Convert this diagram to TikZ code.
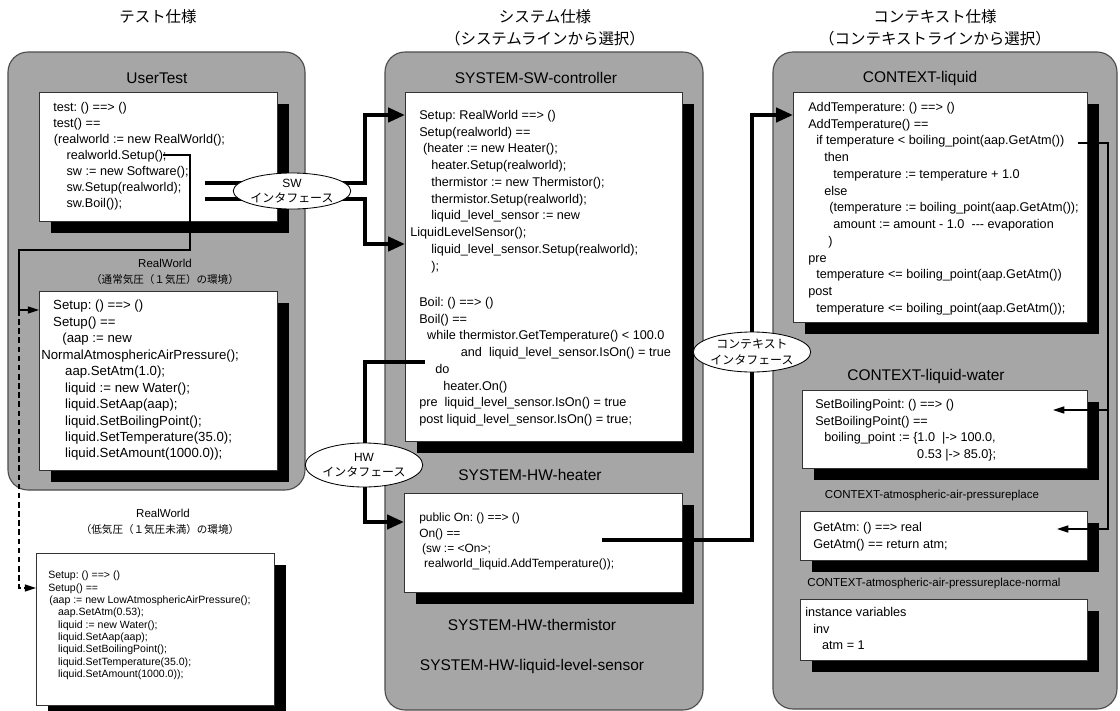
\documentclass[tikz,border=0pt]{standalone}
\usepackage{fontspec}
\setmainfont{Liberation Sans}
\newfontfamily\jpfont{Noto Sans CJK JP}
\usetikzlibrary{arrows.meta,shadows,shapes.geometric}
\frenchspacing
\newcommand{\unitpx}{0.025cm}
\tikzset{
  panel/.style={draw=black!70,line width=0.8pt,fill=black!35,rounded corners=0.5cm},
  codebox/.style={draw=black!80,line width=0.6pt,fill=white,inner sep=0pt,outer sep=0pt,anchor=north west,
    drop shadow={shadow xshift=0.31cm,shadow yshift=-0.31cm,opacity=1,fill=black}},
  code/.style={anchor=north west,inner sep=0pt,align=left,font=\fontsize{9}{11.9}\selectfont},
  heading/.style={inner sep=0pt,font=\fontsize{11}{13}\selectfont},
  subheading/.style={inner sep=0pt,font=\fontsize{8.2}{10}\selectfont},
  title/.style={inner sep=0pt,align=center,font=\jpfont\fontsize{11}{15.6}\selectfont},
  envnote/.style={inner sep=0pt,font=\jpfont\fontsize{7.5}{9}\selectfont},
  iface/.style={ellipse,draw,line width=0.6pt,fill=white,inner sep=0pt,align=center,font=\fontsize{8.5}{11}\selectfont},
  bus/.style={line width=2.8pt,-{Triangle[length=12pt,width=10pt]}},
  link/.style={line width=0.8pt,-{Triangle[length=8pt,width=5pt]}}
}
\begin{document}
\begin{tikzpicture}[x=0.025cm,y=-0.025cm]
\useasboundingbox (0,0) rectangle (1120,711);
% titles
\node[title] (tTest) at (158,17) {テスト仕様};
\node[title] (tSys) at (545,28) {システム仕様\\（システムラインから選択）};
\node[title] (tCtx) at (935,28) {コンテキスト仕様\\（コンテキストラインから選択）};

% panels
\draw[panel] (8,52) rectangle (305,490);
\draw[panel] (385,52) rectangle (703,710);
\draw[panel] (773,52) rectangle (1117,709);

% test spec
\node[heading] (utTitle) at (157,78) {UserTest};
\node[codebox,minimum width=238*\unitpx,minimum height=129*\unitpx] (ut) at (39,92) {};
\node[code,font=\fontsize{9}{11.4}\selectfont] (utCode) at (53,102) {test: () ==> ()\\
test() ==\\
\hspace*{0.5pt}(realworld := new RealWorld();\\
\hspace*{9.5pt}realworld.Setup();\\
\hspace*{9.5pt}sw := new Software();\\
\hspace*{9.5pt}sw.Setup(realworld);\\
\hspace*{9.5pt}sw.Boil());};

\node[subheading] (rwNTitle) at (165,263) {RealWorld};
\node[envnote] (rwNEnv) at (165,279) {（通常気圧（１気圧）の環境）};
\node[codebox,minimum width=238*\unitpx,minimum height=179*\unitpx] (rwN) at (39,291) {};
\node[code,font=\fontsize{9.4}{11.7}\selectfont] (rwNCode) at (41,300) {\hspace*{8.5pt}Setup: () ==> ()\\
\hspace*{8.5pt}Setup() ==\\
\hspace*{15pt}(aap := new\\
NormalAtmosphericAirPressure();\\
\hspace*{17pt}aap.SetAtm(1.0);\\
\hspace*{17pt}liquid := new Water();\\
\hspace*{17pt}liquid.SetAap(aap);\\
\hspace*{17pt}liquid.SetBoilingPoint();\\
\hspace*{17pt}liquid.SetTemperature(35.0);\\
\hspace*{17pt}liquid.SetAmount(1000.0));};

\node[subheading] (rwLTitle) at (163,513) {RealWorld};
\node[envnote] (rwLEnv) at (160,529) {（低気圧（１気圧未満）の環境）};
\node[codebox,minimum width=238*\unitpx,minimum height=152*\unitpx] (rwL) at (36,553) {};
\node[code,font=\fontsize{7.5}{8.75}\selectfont] (rwLCode) at (48,571) {Setup: () ==> ()\\
Setup() ==\\
\hspace*{0.7pt}(aap := new LowAtmosphericAirPressure();\\
\hspace*{7pt}aap.SetAtm(0.53);\\
\hspace*{7pt}liquid := new Water();\\
\hspace*{7pt}liquid.SetAap(aap);\\
\hspace*{7pt}liquid.SetBoilingPoint();\\
\hspace*{7pt}liquid.SetTemperature(35.0);\\
\hspace*{7pt}liquid.SetAmount(1000.0));};

% system spec
\node[heading] (swcTitle) at (536,78) {SYSTEM-SW-controller};
\node[codebox,minimum width=277*\unitpx,minimum height=349*\unitpx] (swc) at (405,92) {};
\node[code] (swcCode) at (410,110) {\hspace*{6.4pt}Setup: RealWorld ==> ()\\
\hspace*{6.4pt}Setup(realworld) ==\\
\hspace*{9.2pt}(heater := new Heater();\\
\hspace*{15pt}heater.Setup(realworld);\\
\hspace*{15pt}thermistor := new Thermistor();\\
\hspace*{15pt}thermistor.Setup(realworld);\\
\hspace*{15pt}liquid\_level\_sensor := new\\
LiquidLevelSensor();\\
\hspace*{15pt}liquid\_level\_sensor.Setup(realworld);\\
\hspace*{15pt});\\[14pt]
\hspace*{6.4pt}Boil: () ==> ()\\
\hspace*{6.4pt}Boil() ==\\
\hspace*{12pt}while thermistor.GetTemperature() < 100.0\\
\hspace*{36pt}and~~liquid\_level\_sensor.IsOn() = true\\
\hspace*{17.8pt}do\\
\hspace*{23.5pt}heater.On()\\
\hspace*{6.4pt}pre~~liquid\_level\_sensor.IsOn() = true\\
\hspace*{6.4pt}post liquid\_level\_sensor.IsOn() = true;};

\node[heading] (htrTitle) at (530,475) {SYSTEM-HW-heater};
\node[codebox,minimum width=278*\unitpx,minimum height=99*\unitpx] (htr) at (404,493) {};
\node[code,font=\fontsize{8.5}{10.9}\selectfont] (htrCode) at (419,513) {public On: () ==> ()\\
On() ==\\
\hspace*{2pt}(sw := <On>;\\
\hspace*{3.5pt}realworld\_liquid.AddTemperature());};
\node[heading] (thmTitle) at (532,625) {SYSTEM-HW-thermistor};
\node[heading] (llsTitle) at (532,666) {SYSTEM-HW-liquid-level-sensor};

% context spec
\node[heading] (liqTitle) at (920,78) {CONTEXT-liquid};
\node[codebox,minimum width=294*\unitpx,minimum height=230*\unitpx] (liq) at (793,92) {};
\node[code] (liqCode) at (808,102) {AddTemperature: () ==> ()\\
AddTemperature() ==\\
\hspace*{5.7pt}if temperature < boiling\_point(aap.GetAtm())\\
\hspace*{11.4pt}then\\
\hspace*{17.8pt}temperature := temperature + 1.0\\
\hspace*{11.4pt}else\\
\hspace*{15pt}(temperature := boiling\_point(aap.GetAtm());\\
\hspace*{17.8pt}amount := amount - 1.0~~-{}-{}- evaporation\\
\hspace*{14.2pt})\\
pre\\
\hspace*{5.7pt}temperature <= boiling\_point(aap.GetAtm())\\
post\\
\hspace*{5.7pt}temperature <= boiling\_point(aap.GetAtm());};

\node[heading] (watTitle) at (926,376) {CONTEXT-liquid-water};
\node[codebox,minimum width=285*\unitpx,minimum height=78*\unitpx] (wat) at (802,390) {};
\node[code] (watCode) at (815,399) {SetBoilingPoint: () ==> ()\\
SetBoilingPoint() ==\\
\hspace*{6.4pt}boiling\_point := \{1.0~~|-> 100.0,\\
\hspace*{72.5pt}0.53 |-> 85.0\};};

\node[subheading] (atmTitle) at (932,496) {CONTEXT-atmospheric-air-pressureplace};
\node[codebox,minimum width=287*\unitpx,minimum height=49*\unitpx] (atm) at (800,511) {};
\node[code] (atmCode) at (813,522) {GetAtm: () ==> real\\
GetAtm() == return atm;};

\node[subheading] (nrmTitle) at (934,584) {CONTEXT-atmospheric-air-pressureplace-normal};
\node[codebox,minimum width=287*\unitpx,minimum height=61*\unitpx] (nrm) at (800,599) {};
\node[code] (nrmCode) at (805,607) {instance variables\\
\hspace*{5.7pt}inv\\
\hspace*{12pt}atm = 1};

% connectors
\coordinate (setupcall) at (163,155);
\coordinate (split) at (19,310);
\coordinate (swout1) at (205,183);
\coordinate (swout2) at (205,199);
\coordinate (hwout) at (425,362);
\coordinate (ctxout) at (602,540);
\coordinate (ifout) at (1078,143);
\coordinate (fork) at (1108,410);
\coordinate (watin) at (1053,410);
\coordinate (atmin) at (1057,529);

\draw[link] (setupcall) -| (190,250) -| (split) -- (rwN.west |- split);
\draw[link,dash pattern=on 4pt off 2.5pt] (split) |- (rwL.west |- 0,588);
\draw[bus] (swout1) -| (365,115) -- (swc.west |- 0,115);
\draw[bus] (swout2) -| (365,244) -- (swc.west |- 0,244);
\draw[bus] (hwout) -| (365,522) -- (htr.west |- 0,522);
\draw[bus] (ctxout) -| (752,115) -- (liq.west |- 0,115);
\draw[link] (ifout) -| (1108,529) -- (atmin);
\draw[link] (fork) -- (watin);

% interfaces
\node[iface,minimum width=107*\unitpx,minimum height=36*\unitpx] (swif) at (292,191) {SW\\\jpfont インタフェース};
\node[iface,minimum width=94*\unitpx,minimum height=44*\unitpx] (hwif) at (364,465) {HW\\\jpfont インタフェース};
\node[iface,font=\jpfont\fontsize{8.5}{11}\selectfont,minimum width=92*\unitpx,minimum height=40*\unitpx] (ctxif) at (752,352) {コンテキスト\\インタフェース};
\end{tikzpicture}
\end{document}
